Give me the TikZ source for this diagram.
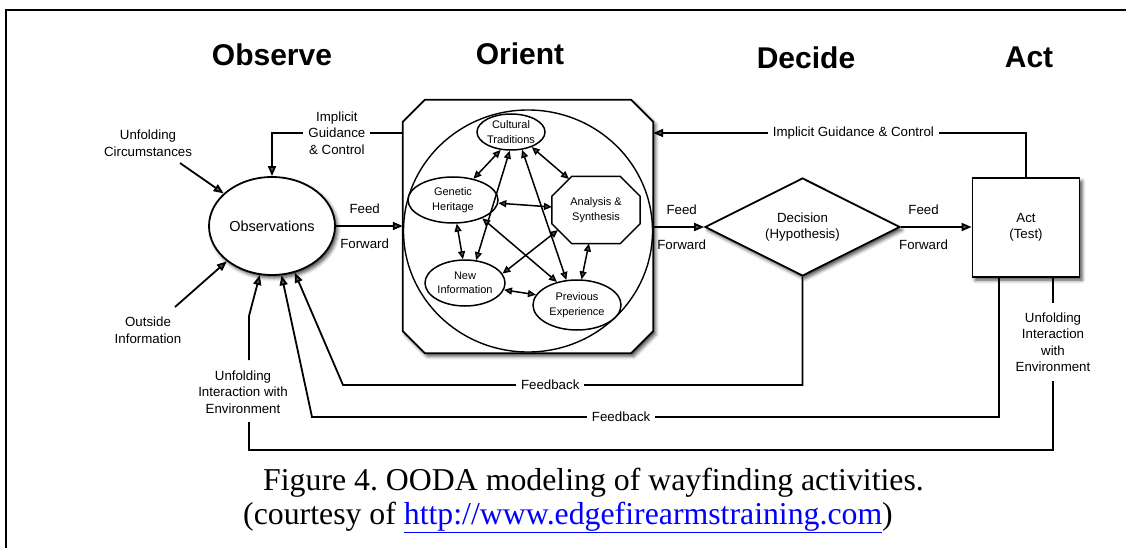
\documentclass[tikz,border=0pt]{standalone}
\usepackage{fontspec}
\setmainfont{Liberation Sans}
\newfontfamily\captionserif{Liberation Serif}
\usetikzlibrary{arrows.meta,shapes.geometric,shadows.blur}

\tikzset{
  thick line/.style={line width=1.8pt},
  mainarrow/.style={thick line, -{Triangle[length=10pt,width=8pt]}},
  innerarrow/.style={line width=1.5pt, {Triangle[length=8pt,width=7pt]}-{Triangle[length=8pt,width=7pt]}},
  labeltext/.style={font=\fontsize{13.3}{16.6}\selectfont, align=center, inner sep=1pt},
  masktext/.style={labeltext, fill=white, inner xsep=5pt, inner ysep=3pt},
  innertext/.style={font=\fontsize{11}{14.5}\selectfont, align=center, inner sep=0pt},
  phase/.style={font=\fontsize{30}{36}\selectfont\bfseries, anchor=base, inner sep=0pt},
  softshadow/.style={blur shadow={shadow xshift=2.5pt, shadow yshift=-3pt, shadow blur radius=3.5pt, shadow opacity=70}},
  oval/.style={ellipse, draw, line width=1.5pt, fill=white, innertext},
  captiontext/.style={anchor=base west, inner sep=0pt, font=\captionserif\fontsize{31.8}{36}\selectfont\frenchspacing},
}

\begin{document}
\begin{tikzpicture}[x=1pt, y=-1pt]
\useasboundingbox (0,0) rectangle (1126,548);

% frame
\draw[line width=2pt] (6,548) -- (6,10) -- (1126,10);

% phase headings
\node[phase] (hobs) at (272,66) {Observe};
\node[phase] (hori) at (520,65) {Orient};
\node[phase] (hdec) at (806,69) {Decide};
\node[phase] (hact) at (1029,68) {Act};

% Observe
\node[ellipse, draw, thick line, fill=white, softshadow, minimum width=126, minimum height=98,
      inner sep=0pt, font=\fontsize{14.5}{17}\selectfont] (obs) at (272,226) {Observations};

% Orient: chamfered frame with the inner circle
\node[minimum width=250, minimum height=253, inner sep=0pt] (ori) at (528,226.5) {};
\path[draw, thick line, fill=white, softshadow]
  ([xshift=22pt]ori.north west) -- ([xshift=-22pt]ori.north east)
  -- ([yshift=-22pt]ori.north east) -- ([yshift=22pt]ori.south east)
  -- ([xshift=-22pt]ori.south east) -- ([xshift=22pt]ori.south west)
  -- ([yshift=22pt]ori.south west) -- ([yshift=-22pt]ori.north west) -- cycle;
\node[draw, ellipse, line width=1.4pt, minimum width=249, minimum height=242, inner sep=0pt] (orc) at (528,231) {};

\node[oval, minimum width=68, minimum height=36] (ct) at (511,132) {Cultural\\Traditions};
\node[oval, minimum width=90, minimum height=46] (gh) at (453,200) {Genetic\\Heritage};
\node[oval, minimum width=80, minimum height=46] (ni) at (465,283) {New\\Information};
\node[oval, minimum width=88, minimum height=50] (pe) at (577,305) {Previous\\Experience};
\node[innertext, minimum width=88, minimum height=67] (as) at (596,210) {Analysis \&\\Synthesis};
\draw[line width=1.5pt]
  ([xshift=20pt]as.north west) -- ([xshift=-20pt]as.north east)
  -- ([yshift=-20pt]as.north east) -- ([yshift=20pt]as.south east)
  -- ([xshift=-20pt]as.south east) -- ([xshift=20pt]as.south west)
  -- ([yshift=20pt]as.south west) -- ([yshift=-20pt]as.north west) -- cycle;

\draw[innerarrow] (ct.240) -- (gh.46);
\draw[innerarrow] (ct.266) -- (ni.64);
\draw[innerarrow] (ct.302) -- (pe.113);
\draw[innerarrow] (ct.324) -- ([shift={(-27pt,31pt)}]as.center);
\draw[innerarrow] (gh.-4) -- ([shift={(-44pt,3pt)}]as.center);
\draw[innerarrow] (gh.279) -- (ni.95);
\draw[innerarrow] (gh.328) -- (pe.131);
\draw[innerarrow] ([shift={(-38pt,-20pt)}]as.center) -- (ni.14);
\draw[innerarrow] ([shift={(-7pt,-33.5pt)}]as.center) -- (pe.80);
\draw[innerarrow] (ni.-10) -- (pe.166);

% Decide and Act
\node[diamond, draw, thick line, fill=white, softshadow, minimum width=195, minimum height=98,
      aspect=2, labeltext, inner sep=0pt] (dec) at (802.5,227) {Decision\\(Hypothesis)};
\node[draw, thick line, fill=white, softshadow, minimum width=107, minimum height=99,
      labeltext] (act) at (1026,227.5) {Act\\(Test)};

% feed forward
\draw[mainarrow] (obs.east) --
  node[labeltext, above=10pt, pos=0.43] (ff1a) {Feed}
  node[labeltext, below=11pt, pos=0.43] (ff1b) {Forward} (ori.west |- obs.east);
\draw[mainarrow] (ori.east |- dec.west) --
  node[labeltext, above=10pt, pos=0.56] (ff2a) {Feed}
  node[labeltext, below=11pt, pos=0.56] (ff2b) {Forward} (dec.west);
\draw[mainarrow] (dec.east) --
  node[labeltext, above=10pt, pos=0.32] (ff3a) {Feed}
  node[labeltext, below=11pt, pos=0.32] (ff3b) {Forward} (act.west |- dec.east);

% implicit guidance & control
\coordinate (igtop) at (0,133);
\draw[mainarrow] (act.north) -- (act.north |- igtop) --
  node[masktext, pos=0.463] (igc2) {Implicit Guidance \& Control} (ori.east |- igtop);
\draw[mainarrow] (ori.west |- igtop) --
  node[masktext, pos=0.504] (igc1) {Implicit\\Guidance\\\& Control} (obs.north |- igtop) -- (obs.north);

% outside inputs
\node[labeltext] (uc) at (148,143) {Unfolding\\Circumstances};
\node[labeltext] (oi) at (148,330) {Outside\\Information};
\coordinate (ucs) at (180,163);
\coordinate (ois) at (175,307);
\draw[mainarrow] (ucs) -- (obs.146);
\draw[mainarrow] (ois) -- (obs.218);

\node[labeltext] (uil) at (243,392) {Unfolding\\Interaction with\\Environment};
\coordinate (uis) at (249,360);
\draw[mainarrow] (uis) -- ++(0,-44) -- (obs.256);

% feedback loops
\coordinate (fb1) at (343,385);
\draw[mainarrow] (dec.south) -- (dec.south |- fb1) --
  node[masktext, pos=0.549] (fbl1) {Feedback} (fb1) -- (obs.296);
\coordinate (fb2) at (312,417);
\coordinate (actl) at (999,0);
\draw[mainarrow] (act.south -| actl) -- (actl |- fb2) --
  node[masktext, pos=0.55] (fbl2) {Feedback} (fb2) -- (obs.281);

% interaction with environment loop
\coordinate (actr) at (1053,0);
\coordinate (loopb) at (0,450);
\coordinate (uie) at (249,422);
\draw[thick line] (act.south -| actr) --
  node[masktext, inner ysep=9pt, pos=0.374] (uir) {Unfolding\\Interaction\\with\\Environment}
  (actr |- loopb) -- (uie |- loopb) -- (uie);

% caption
\node[captiontext] (cap1) at (263,490) {Figure 4. OODA modeling of wayfinding activities.};
\node[captiontext] (cap2) at (243,524) {(courtesy of \textcolor{blue}{\underline{http://www.edgefirearmstraining.com}})};
\end{tikzpicture}
\end{document}
